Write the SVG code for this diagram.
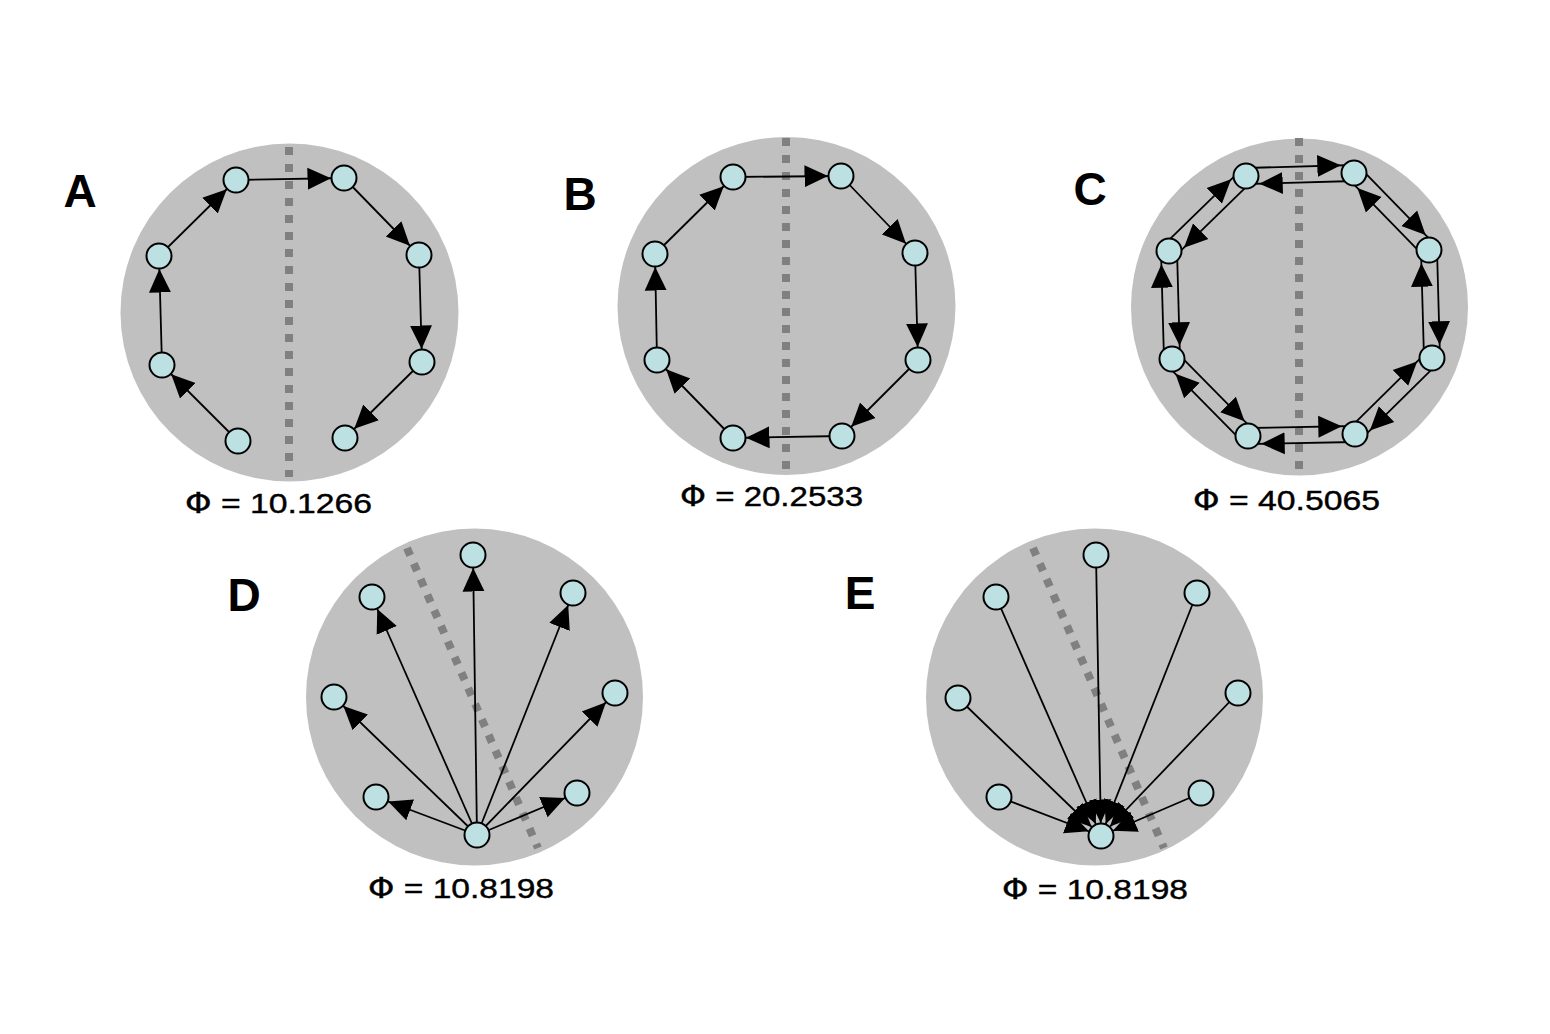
<svg xmlns="http://www.w3.org/2000/svg" width="1550" height="1034" viewBox="0 0 1550 1034">
<defs>
<style>
.bg{fill:#c0c0c0}
.cut{stroke:#808080;stroke-width:8;stroke-dasharray:8 9;fill:none}
.n{fill:#bde0e2;stroke:#000;stroke-width:2}
.e{stroke:#000;stroke-width:1.8;fill:none;marker-end:url(#ah)}
.lbl{font-family:"Liberation Sans",Arial,Helvetica,sans-serif;font-weight:bold;font-size:46px;fill:#000;text-anchor:middle}
.phi{font-family:"Liberation Sans",Arial,Helvetica,sans-serif;font-size:28px;fill:#000;stroke:#000;stroke-width:0.4}
.sym{font-family:"DejaVu Sans","Liberation Sans",sans-serif;font-size:28px}
</style>
<marker id="ah" markerUnits="userSpaceOnUse" markerWidth="40" markerHeight="24" viewBox="0 0 40 24" refX="36.5" refY="12" orient="auto">
<path d="M0,1 L23.5,12 L0,23 z" fill="#000"/>
</marker>
</defs>
<rect width="1550" height="1034" fill="#fff"/>

<g id="backgrounds">
<circle class="bg" cx="289.5" cy="312.5" r="169"/>
<circle class="bg" cx="786.5" cy="306" r="169"/>
<circle class="bg" cx="1299.5" cy="307" r="168.5"/>
<circle class="bg" cx="474.5" cy="697" r="168.5"/>
<circle class="bg" cx="1094.5" cy="697" r="168.5"/>
</g>

<g id="cuts">
<line class="cut" x1="289" y1="147" x2="289" y2="477"/>
<line class="cut" x1="786" y1="138" x2="786" y2="470"/>
<line class="cut" x1="1299" y1="138" x2="1299" y2="473"/>
<line class="cut" x1="407" y1="548" x2="538" y2="848"/>
<line class="cut" x1="1033" y1="548" x2="1164" y2="848"/>
</g>

<g id="connectors">
<!-- A -->
<line class="e" x1="238" y1="441" x2="162" y2="365"/>
<line class="e" x1="162" y1="365" x2="159" y2="256"/>
<line class="e" x1="159" y1="256" x2="236" y2="180"/>
<line class="e" x1="236" y1="180" x2="344" y2="178"/>
<line class="e" x1="344" y1="178" x2="419" y2="255"/>
<line class="e" x1="419" y1="255" x2="422" y2="362"/>
<line class="e" x1="422" y1="362" x2="345" y2="438"/>
<!-- B -->
<line class="e" x1="733" y1="177" x2="841" y2="176"/>
<line class="e" x1="841" y1="176" x2="915" y2="253"/>
<line class="e" x1="915" y1="253" x2="918" y2="360"/>
<line class="e" x1="918" y1="360" x2="842" y2="436"/>
<line class="e" x1="842" y1="436" x2="733" y2="438"/>
<line class="e" x1="733" y1="438" x2="657" y2="360"/>
<line class="e" x1="657" y1="360" x2="655" y2="254"/>
<line class="e" x1="655" y1="254" x2="733" y2="177"/>
<!-- C -->
<line class="e" x1="1245.8" y1="168" x2="1353.8" y2="165"/>
<line class="e" x1="1354.2" y1="181" x2="1246.2" y2="184"/>
<line class="e" x1="1359.7" y1="167.4" x2="1434.7" y2="244.4"/>
<line class="e" x1="1423.3" y1="255.6" x2="1348.3" y2="178.6"/>
<line class="e" x1="1437" y1="249.8" x2="1440" y2="357.8"/>
<line class="e" x1="1424" y1="358.2" x2="1421" y2="250.2"/>
<line class="e" x1="1437.6" y1="363.7" x2="1360.6" y2="439.7"/>
<line class="e" x1="1349.4" y1="428.3" x2="1426.4" y2="352.3"/>
<line class="e" x1="1355.2" y1="442" x2="1248.2" y2="444"/>
<line class="e" x1="1247.8" y1="428" x2="1354.8" y2="426"/>
<line class="e" x1="1242.3" y1="441.6" x2="1166.3" y2="364.6"/>
<line class="e" x1="1177.7" y1="353.4" x2="1253.7" y2="430.4"/>
<line class="e" x1="1164" y1="359.2" x2="1161" y2="251.2"/>
<line class="e" x1="1177" y1="250.8" x2="1180" y2="358.8"/>
<line class="e" x1="1163.4" y1="245.3" x2="1240.4" y2="170.3"/>
<line class="e" x1="1251.6" y1="181.7" x2="1174.6" y2="256.7"/>
<!-- D -->
<line class="e" x1="477" y1="835" x2="473" y2="555"/>
<line class="e" x1="477" y1="835" x2="372" y2="597"/>
<line class="e" x1="477" y1="835" x2="573" y2="593"/>
<line class="e" x1="477" y1="835" x2="334" y2="697"/>
<line class="e" x1="477" y1="835" x2="615" y2="693"/>
<line class="e" x1="477" y1="835" x2="376" y2="797"/>
<line class="e" x1="477" y1="835" x2="577" y2="793"/>
<!-- E -->
<line class="e" x1="1096" y1="555" x2="1101" y2="836"/>
<line class="e" x1="996" y1="597" x2="1101" y2="836"/>
<line class="e" x1="1197" y1="593" x2="1101" y2="836"/>
<line class="e" x1="958" y1="698" x2="1101" y2="836"/>
<line class="e" x1="1238" y1="693" x2="1101" y2="836"/>
<line class="e" x1="999" y1="797" x2="1101" y2="836"/>
<line class="e" x1="1201" y1="793" x2="1101" y2="836"/>
</g>

<g id="panelA-nodes">
<g id="A1"><circle class="n" cx="236" cy="180" r="12.5"/></g>
<g id="A2"><circle class="n" cx="344" cy="178" r="12.5"/></g>
<g id="A3"><circle class="n" cx="419" cy="255" r="12.5"/></g>
<g id="A4"><circle class="n" cx="422" cy="362" r="12.5"/></g>
<g id="A5"><circle class="n" cx="345" cy="438" r="12.5"/></g>
<g id="A6"><circle class="n" cx="238" cy="441" r="12.5"/></g>
<g id="A7"><circle class="n" cx="162" cy="365" r="12.5"/></g>
<g id="A8"><circle class="n" cx="159" cy="256" r="12.5"/></g>
</g>
<g id="panelB-nodes">
<g id="B1"><circle class="n" cx="733" cy="177" r="12.5"/></g>
<g id="B2"><circle class="n" cx="841" cy="176" r="12.5"/></g>
<g id="B3"><circle class="n" cx="915" cy="253" r="12.5"/></g>
<g id="B4"><circle class="n" cx="918" cy="360" r="12.5"/></g>
<g id="B5"><circle class="n" cx="842" cy="436" r="12.5"/></g>
<g id="B6"><circle class="n" cx="733" cy="438" r="12.5"/></g>
<g id="B7"><circle class="n" cx="657" cy="360" r="12.5"/></g>
<g id="B8"><circle class="n" cx="655" cy="254" r="12.5"/></g>
</g>
<g id="panelC-nodes">
<g id="C1"><circle class="n" cx="1246" cy="176" r="12.5"/></g>
<g id="C2"><circle class="n" cx="1354" cy="173" r="12.5"/></g>
<g id="C3"><circle class="n" cx="1429" cy="250" r="12.5"/></g>
<g id="C4"><circle class="n" cx="1432" cy="358" r="12.5"/></g>
<g id="C5"><circle class="n" cx="1355" cy="434" r="12.5"/></g>
<g id="C6"><circle class="n" cx="1248" cy="436" r="12.5"/></g>
<g id="C7"><circle class="n" cx="1172" cy="359" r="12.5"/></g>
<g id="C8"><circle class="n" cx="1169" cy="251" r="12.5"/></g>
</g>
<g id="panelD-nodes">
<g id="D0"><circle class="n" cx="477" cy="835" r="12.5"/></g>
<g id="D1"><circle class="n" cx="473" cy="555" r="12.5"/></g>
<g id="D2"><circle class="n" cx="372" cy="597" r="12.5"/></g>
<g id="D3"><circle class="n" cx="573" cy="593" r="12.5"/></g>
<g id="D4"><circle class="n" cx="334" cy="697" r="12.5"/></g>
<g id="D5"><circle class="n" cx="615" cy="693" r="12.5"/></g>
<g id="D6"><circle class="n" cx="376" cy="797" r="12.5"/></g>
<g id="D7"><circle class="n" cx="577" cy="793" r="12.5"/></g>
</g>
<g id="panelE-nodes">
<g id="E0"><circle class="n" cx="1101" cy="836" r="12.5"/></g>
<g id="E1"><circle class="n" cx="1096" cy="555" r="12.5"/></g>
<g id="E2"><circle class="n" cx="996" cy="597" r="12.5"/></g>
<g id="E3"><circle class="n" cx="1197" cy="593" r="12.5"/></g>
<g id="E4"><circle class="n" cx="958" cy="698" r="12.5"/></g>
<g id="E5"><circle class="n" cx="1238" cy="693" r="12.5"/></g>
<g id="E6"><circle class="n" cx="999" cy="797" r="12.5"/></g>
<g id="E7"><circle class="n" cx="1201" cy="793" r="12.5"/></g>
</g>

<g id="labels">
<text class="lbl" x="80" y="207">A</text>
<text class="lbl" x="580" y="210">B</text>
<text class="lbl" x="1090" y="205">C</text>
<text class="lbl" x="244" y="611">D</text>
<text class="lbl" x="860" y="609">E</text>
<text class="phi" x="185" y="513" textLength="187" lengthAdjust="spacingAndGlyphs"><tspan class="sym">Φ</tspan> = 10.1266</text>
<text class="phi" x="680" y="506" textLength="183" lengthAdjust="spacingAndGlyphs"><tspan class="sym">Φ</tspan> = 20.2533</text>
<text class="phi" x="1193" y="510" textLength="187" lengthAdjust="spacingAndGlyphs"><tspan class="sym">Φ</tspan> = 40.5065</text>
<text class="phi" x="368" y="898" textLength="186" lengthAdjust="spacingAndGlyphs"><tspan class="sym">Φ</tspan> = 10.8198</text>
<text class="phi" x="1002" y="899" textLength="186" lengthAdjust="spacingAndGlyphs"><tspan class="sym">Φ</tspan> = 10.8198</text>
</g>
</svg>
